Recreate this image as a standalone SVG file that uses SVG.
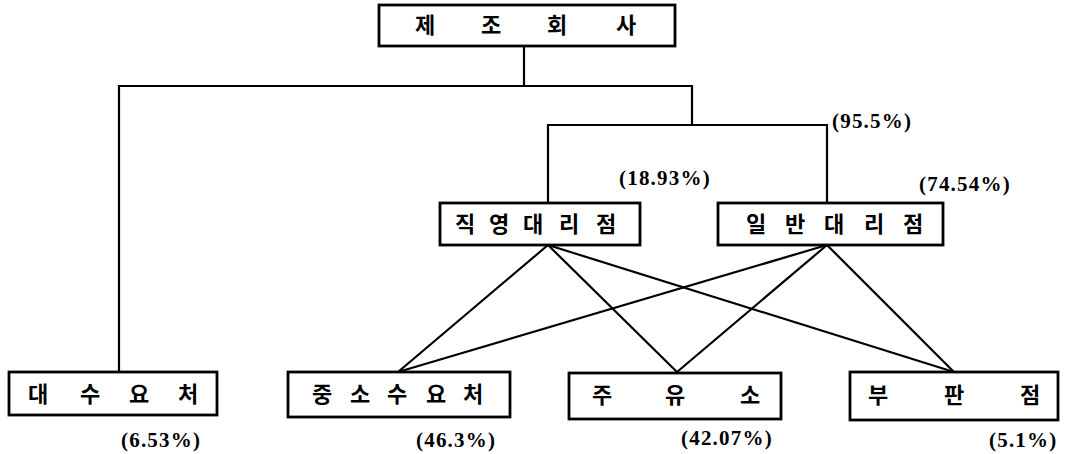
<svg xmlns="http://www.w3.org/2000/svg" width="1068" height="454" viewBox="0 0 1068 454">
<style>
.box{fill:#fff;stroke:#000;stroke-width:2.8}
.ln{fill:none;stroke:#000;stroke-width:2.2}
.k{font-family:"Noto Sans CJK KR","Noto Sans",sans-serif;font-size:22px;font-weight:bold;text-anchor:middle;fill:#000}
.p{font-family:"Liberation Serif",serif;font-weight:bold;font-size:21px;letter-spacing:1.2px;fill:#000}
</style>
<rect width="1068" height="454" fill="#fff"/>
<g id="connectors">
<polyline class="ln" points="524,46 524,86"/>
<polyline class="ln" points="119,372 119,86 692,86 692,125"/>
<polyline class="ln" points="548,202 548,125 827,125 827,202"/>
<line class="ln" x1="548" y1="245" x2="398" y2="372"/>
<line class="ln" x1="548" y1="245" x2="677" y2="372"/>
<line class="ln" x1="548" y1="245" x2="954" y2="372"/>
<line class="ln" x1="827" y1="245" x2="398" y2="372"/>
<line class="ln" x1="827" y1="245" x2="677" y2="372"/>
<line class="ln" x1="827" y1="245" x2="954" y2="372"/>
</g>
<g id="n-maker">
<rect class="box" x="379" y="5" width="296" height="41"/>
<text class="k" y="33"><tspan x="425">제</tspan><tspan x="491">조</tspan><tspan x="557">회</tspan><tspan x="626">사</tspan></text>
</g>
<g id="n-direct">
<rect class="box" x="440" y="203" width="200" height="42"/>
<text class="k" y="232"><tspan x="465">직</tspan><tspan x="499">영</tspan><tspan x="533">대</tspan><tspan x="569">리</tspan><tspan x="606">점</tspan></text>
<text class="p" x="619" y="185">(18.93%)</text>
</g>
<g id="n-general">
<rect class="box" x="718" y="203" width="225" height="42"/>
<text class="k" y="232"><tspan x="756">일</tspan><tspan x="795">반</tspan><tspan x="834">대</tspan><tspan x="874">리</tspan><tspan x="913">점</tspan></text>
<text class="p" x="919" y="191">(74.54%)</text>
</g>
<text class="p" x="832" y="128">(95.5%)</text>
<g id="n-large">
<rect class="box" x="9" y="372" width="208" height="43"/>
<text class="k" y="402"><tspan x="38">대</tspan><tspan x="90">수</tspan><tspan x="139">요</tspan><tspan x="188">처</tspan></text>
<text class="p" x="121" y="447">(6.53%)</text>
</g>
<g id="n-small">
<rect class="box" x="288" y="372" width="222" height="45"/>
<text class="k" y="402"><tspan x="322">중</tspan><tspan x="360">소</tspan><tspan x="397">수</tspan><tspan x="436">요</tspan><tspan x="473">처</tspan></text>
<text class="p" x="416" y="447">(46.3%)</text>
</g>
<g id="n-station">
<rect class="box" x="569" y="373" width="212" height="46"/>
<text class="k" y="403"><tspan x="602">주</tspan><tspan x="675">유</tspan><tspan x="750">소</tspan></text>
<text class="p" x="681" y="445">(42.07%)</text>
</g>
<g id="n-sub">
<rect class="box" x="850" y="372" width="208" height="48"/>
<text class="k" y="403"><tspan x="878">부</tspan><tspan x="954">판</tspan><tspan x="1030">점</tspan></text>
<text class="p" x="989" y="447">(5.1%)</text>
</g>
</svg>
